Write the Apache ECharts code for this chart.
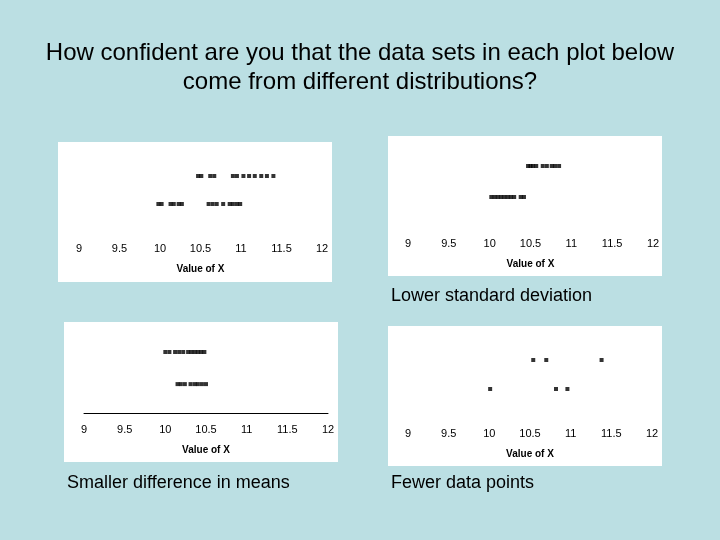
<!DOCTYPE html>
<html>
<head>
<meta charset="utf-8">
<script src="https://cdn.jsdelivr.net/npm/echarts@6/dist/echarts.min.js"></script>
<style>html,body{margin:0;padding:0;background:#BBDFE3;}#c{width:720px;height:540px;}</style>
</head>
<body>
<div id="c"></div>
<script>
// Data
var tickLabels = ['9', '9.5', '10', '10.5', '11', '11.5', '12'];
var p1Top = [10.47, 10.51, 10.62, 10.67, 10.90, 10.95, 11.03, 11.10, 11.17, 11.25, 11.32, 11.40];
var p1Bottom = [9.98, 10.02, 10.13, 10.17, 10.23, 10.27, 10.60, 10.65, 10.70, 10.78, 10.86, 10.90, 10.95, 10.99];
var p2Top = [10.47, 10.50, 10.53, 10.57, 10.65, 10.70, 10.76, 10.80, 10.85];
var p2Bottom = [10.02, 10.06, 10.10, 10.14, 10.18, 10.22, 10.26, 10.30, 10.38, 10.42];
var p3Top = [10.00, 10.05, 10.12, 10.17, 10.22, 10.28, 10.32, 10.36, 10.40, 10.44, 10.48];
var p3Bottom = [10.15, 10.19, 10.24, 10.31, 10.36, 10.40, 10.45, 10.50];
var p4Top = [10.54, 10.70, 11.38];
var p4Bottom = [10.01, 10.82, 10.96];
var titleLines = ['How confident are you that the data sets in each plot below', 'come from different distributions?'];
var captions = ['Lower standard deviation', 'Smaller difference in means', 'Fewer data points'];
var axisTitle = 'Value of X';

var chart = echarts.init(document.getElementById('c'), null, {renderer: 'canvas'});

var panels = [
  {box: [58, 142, 274, 140], grid: {left: 79, width: 243, top: 176, height: 56}, ymin: 0, labelMargin: 11, nameGap: 32, axisLine: false, top: p1Top, bottom: p1Bottom},
  {box: [388, 136, 274, 140], grid: {left: 408, width: 245, top: 166, height: 62}, ymin: 0, labelMargin: 10, nameGap: 31, axisLine: false, top: p2Top, bottom: p2Bottom},
  {box: [64, 322, 274, 140], grid: {left: 84, width: 244, top: 352, height: 61}, ymin: 0.1, labelMargin: 11, nameGap: 32, axisLine: true, top: p3Top, bottom: p3Bottom},
  {box: [388, 326, 274, 140], grid: {left: 408, width: 244, top: 360, height: 58}, ymin: 0, labelMargin: 10, nameGap: 31, axisLine: false, top: p4Top, bottom: p4Bottom}
];

var grids = [], xAxes = [], yAxes = [], series = [], graphics = [];
panels.forEach(function (p, i) {
  graphics.push({type: 'rect', z: -10, shape: {x: p.box[0], y: p.box[1], width: p.box[2], height: p.box[3]}, style: {fill: '#ffffff'}});
  grids.push({left: p.grid.left, width: p.grid.width, top: p.grid.top, height: p.grid.height, containLabel: false});
  xAxes.push({
    type: 'value', gridIndex: i, min: 9, max: 12, interval: 0.5,
    axisLine: {show: p.axisLine, onZero: false, lineStyle: {color: '#000', width: 1}},
    axisTick: {show: false}, splitLine: {show: false},
    axisLabel: {margin: p.labelMargin, color: '#000', fontFamily: 'Liberation Sans, Arial', fontSize: 11,
      formatter: function (v) { return tickLabels[Math.round((v - 9) / 0.5)]; }},
    name: axisTitle, nameLocation: 'middle', nameGap: p.nameGap,
    nameTextStyle: {color: '#000', fontFamily: 'Liberation Sans, Arial', fontSize: 10, fontWeight: 'bold'}
  });
  yAxes.push({type: 'value', gridIndex: i, min: p.ymin, max: 2, show: false});
  [[p.top, 2], [p.bottom, 1]].forEach(function (r) {
    series.push({
      type: 'scatter', xAxisIndex: i, yAxisIndex: i, symbol: 'rect', symbolSize: [4, 4],
      itemStyle: {color: '#000'}, silent: true,
      data: r[0].map(function (v) { return [v, r[1]]; })
    });
  });
});

var capFont = '18px "Liberation Sans", Arial';
graphics.push({type: 'text', x: 391, y: 296, style: {text: captions[0], fill: '#000', font: capFont, verticalAlign: 'middle'}});
graphics.push({type: 'text', x: 67, y: 483, style: {text: captions[1], fill: '#000', font: capFont, verticalAlign: 'middle'}});
graphics.push({type: 'text', x: 391, y: 483, style: {text: captions[2], fill: '#000', font: capFont, verticalAlign: 'middle'}});
var titleFont = '24px "Liberation Sans", Arial';
graphics.push({type: 'text', x: 360, y: 53, style: {text: titleLines[0], fill: '#000', font: titleFont, align: 'center', verticalAlign: 'middle'}});
graphics.push({type: 'text', x: 360, y: 82, style: {text: titleLines[1], fill: '#000', font: titleFont, align: 'center', verticalAlign: 'middle'}});

chart.setOption({
  backgroundColor: '#BBDFE3',
  animation: false,
  grid: grids, xAxis: xAxes, yAxis: yAxes, series: series,
  graphic: graphics
});
</script>
</body>
</html>
